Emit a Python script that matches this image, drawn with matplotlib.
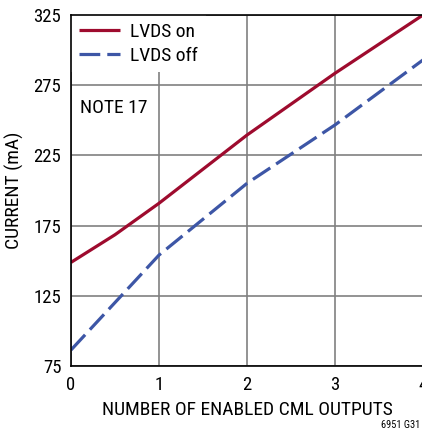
import matplotlib
matplotlib.use('Agg')

import matplotlib.pyplot as plt

plt.rcParams['font.family'] = ['Roboto Condensed', 'DejaVu Sans']

# supply current vs. number of enabled CML outputs
outputs = [0, 0.5, 1, 2, 3, 4]
lvds_on = [148.8, 168.5, 190.9, 239.5, 283.5, 325.0]
lvds_off = [86.4, 120.2, 154.0, 205.1, 246.7, 293.0]

x_ticks = [0, 1, 2, 3, 4]
y_ticks = [75, 125, 175, 225, 275, 325]

ROJO = '#9e0b2e'
AZUL = '#3d56a6'

fig = plt.figure(figsize=(4.22, 4.34), dpi=100)
ax = fig.add_axes([71 / 422, 68 / 434, 352 / 422, 351 / 434])

ax.plot(outputs, lvds_on, color=ROJO, lw=2.3, label='LVDS on', solid_capstyle='butt')
ax.plot(outputs, lvds_off, color=AZUL, lw=2.3, dashes=(6.5, 2.2), label='LVDS off',
        dash_capstyle='butt')

ax.set_xlim(0, 4)
ax.set_ylim(75, 325)
ax.set_xticks(x_ticks)
ax.set_yticks(y_ticks)
ax.tick_params(length=0, labelsize=13.5, pad=7)
ax.grid(True, color='#808080', lw=1.2)
ax.set_axisbelow(True)
for s in ax.spines.values():
    s.set_linewidth(1.2)
    s.set_color('black')

ax.set_xlabel('NUMBER OF ENABLED CML OUTPUTS', fontsize=14, labelpad=5)
ax.set_ylabel('CURRENT (mA)', fontsize=14, labelpad=7)

leg = ax.legend(loc='upper left', bbox_to_anchor=(0.0, 1.0), fontsize=14, frameon=True,
                handlelength=2.1, handletextpad=0.55, labelspacing=0.3,
                borderaxespad=0.0, borderpad=0.4, fancybox=False)
leg.get_frame().set_edgecolor('none')
leg.get_frame().set_facecolor('white')
leg.get_frame().set_alpha(1)
# keep the spines drawn over the legend box
leg.set_zorder(2.2)

ax.text(0.10, 258.5, 'NOTE 17', fontsize=14, va='center', ha='left')
fig.text(0.995, 0.01, '6951 G31', fontsize=7.5, ha='right', va='bottom')

fig.savefig('out.png', dpi=100)
plt.close(fig)
